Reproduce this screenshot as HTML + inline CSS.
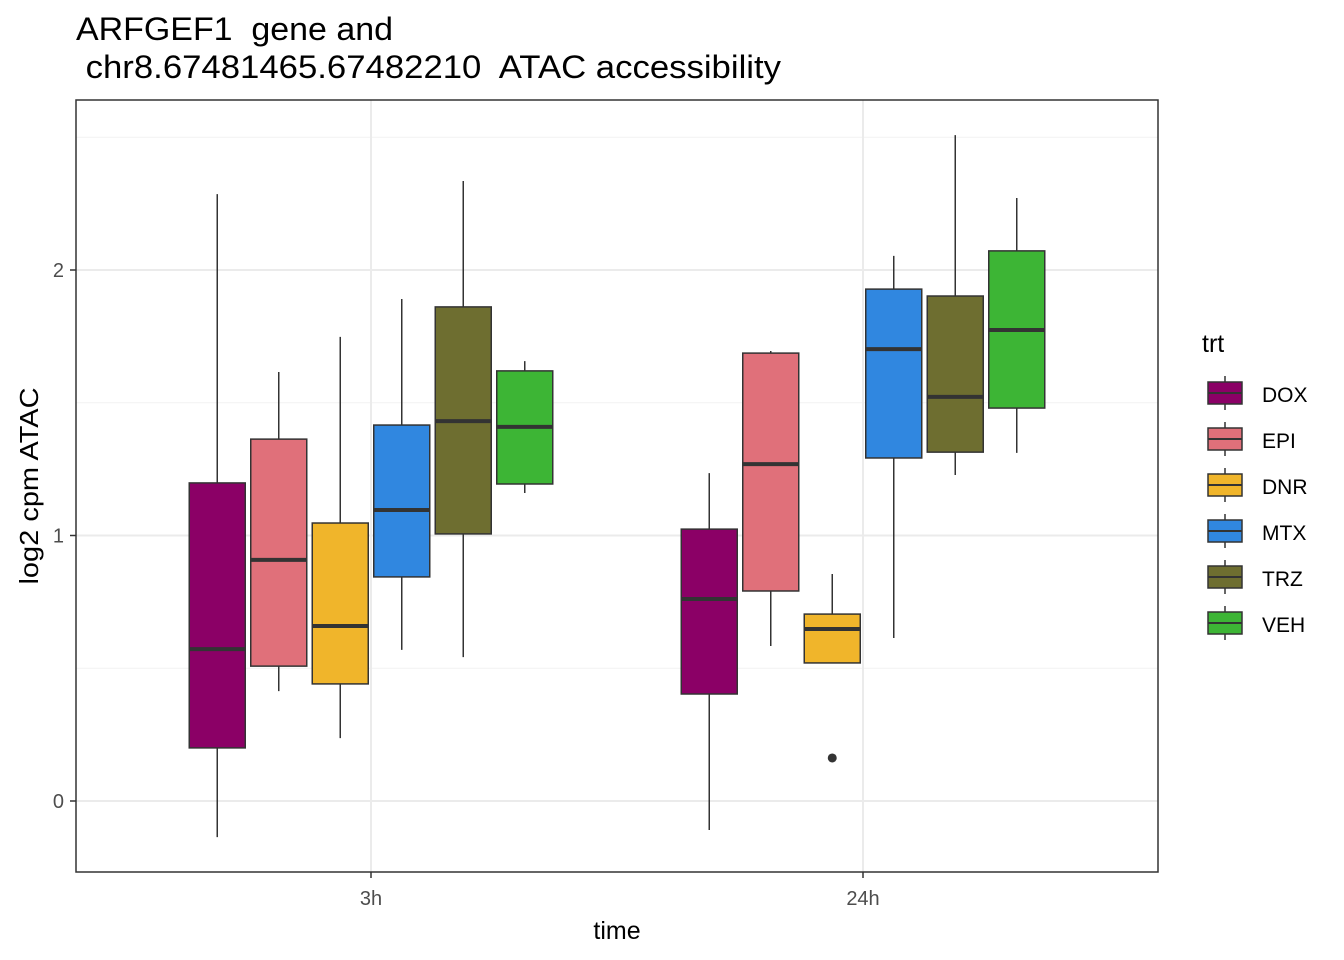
<!DOCTYPE html>
<html><head><meta charset="utf-8"><style>body{margin:0;background:#fff}svg{display:block;font-family:"Liberation Sans",Arial,sans-serif}</style></head>
<body>
<svg id="c" width="1344" height="960"></svg>
<script>
const times=["3h","24h"];
const trts=["DOX","EPI","DNR","MTX","TRZ","VEH"];
const colors=["#8B0066","#E0707A","#F0B52B","#3087E0","#6E6E30","#3DB535"];
// [low, q1, median, q3, high] per time per trt
const stats3h=[[-0.136,0.20,0.572,1.198,2.286],[0.414,0.508,0.908,1.363,1.616],[0.237,0.441,0.659,1.047,1.748],[0.569,0.844,1.096,1.416,1.891],[0.542,1.006,1.431,1.861,2.335],[1.160,1.194,1.409,1.620,1.657]];
const stats24h=[[-0.109,0.403,0.761,1.024,1.235],[0.584,0.791,1.269,1.687,1.695],[0.520,0.520,0.648,0.704,0.855],[0.614,1.292,1.702,1.928,2.053],[1.228,1.314,1.522,1.902,2.508],[1.311,1.480,1.774,2.072,2.271]];
const outliers=[{t:1,g:2,v:0.162}];
const yTicks=[0,1,2];
const yMinor=[0.5,1.5,2.5];
const svg=document.getElementById('c');const NS="http://www.w3.org/2000/svg";
function el(tag,a,txt){const e=document.createElementNS(NS,tag);for(const k in a)e.setAttribute(k,a[k]);if(txt!=null)e.textContent=txt;svg.appendChild(e);return e;}
const L=76,R=1158,T=100,B=872;
const y=v=>801-v*265.5;
const xc=i=>371+i*492;
const dodge=61.5,bw=56;
let e;
e=el('text',{x:76,y:40,'font-size':32,fill:'#000',style:'white-space:pre',textLength:317,lengthAdjust:'spacingAndGlyphs'},'ARFGEF1  gene and');
e=el('text',{x:76,y:78,'font-size':32,fill:'#000',style:'white-space:pre',textLength:705,lengthAdjust:'spacingAndGlyphs'},' chr8.67481465.67482210  ATAC accessibility');
yMinor.forEach(v=>{e=el('line',{x1:L,x2:R,y1:y(v),y2:y(v),stroke:'#F2F2F2','stroke-width':1});});
yTicks.forEach(v=>{e=el('line',{x1:L,x2:R,y1:y(v),y2:y(v),stroke:'#EBEBEB','stroke-width':2});
 e=el('line',{x1:L-6,x2:L,y1:y(v),y2:y(v),stroke:'#333','stroke-width':1.5});
 e=el('text',{x:L-12,y:y(v)+7,'font-size':20,fill:'#4D4D4D','text-anchor':'end'},String(v));});
times.forEach((t,i)=>{e=el('line',{x1:xc(i),x2:xc(i),y1:T,y2:B,stroke:'#EBEBEB','stroke-width':2});
 e=el('line',{x1:xc(i),x2:xc(i),y1:B,y2:B+6,stroke:'#333','stroke-width':1.5});
 e=el('text',{x:xc(i),y:905,'font-size':20,fill:'#4D4D4D','text-anchor':'middle'},t);});
[stats3h,stats24h].forEach((S,ti)=>{S.forEach((s,g)=>{const cx=xc(ti)+(g-2.5)*dodge;
 e=el('line',{x1:cx,x2:cx,y1:y(s[0]),y2:y(s[4]),stroke:'#333','stroke-width':1.5});
 e=el('rect',{x:cx-bw/2,y:y(s[3]),width:bw,height:y(s[1])-y(s[3]),fill:colors[g],stroke:'#333','stroke-width':1.5});
 e=el('line',{x1:cx-bw/2,x2:cx+bw/2,y1:y(s[2]),y2:y(s[2]),stroke:'#333','stroke-width':4});});});
outliers.forEach(o=>{e=el('circle',{cx:xc(o.t)+(o.g-2.5)*dodge,cy:y(o.v),r:4.5,fill:'#333'});});
e=el('rect',{x:L,y:T,width:R-L,height:B-T,fill:'none',stroke:'#333','stroke-width':1.5});
e=el('text',{x:617,y:939,'font-size':25,fill:'#000','text-anchor':'middle'},'time');
e=el('text',{x:0,y:0,'font-size':26,fill:'#000','text-anchor':'middle',transform:'translate(38,486) rotate(-90)',textLength:197,lengthAdjust:'spacingAndGlyphs'},'log2 cpm ATAC');
e=el('text',{x:1202,y:352,'font-size':25,fill:'#000'},'trt');
trts.forEach((t,i)=>{const cy=393+i*46;
 e=el('line',{x1:1225,x2:1225,y1:cy-17,y2:cy+17,stroke:'#333','stroke-width':1.5});
 e=el('rect',{x:1208,y:cy-11,width:34,height:22,fill:colors[i],stroke:'#333','stroke-width':1.5});
 e=el('line',{x1:1208,x2:1242,y1:cy,y2:cy,stroke:'#333','stroke-width':2});
 e=el('text',{x:1262,y:cy+9,'font-size':21,fill:'#000'},t);});
</script>
</body></html>
